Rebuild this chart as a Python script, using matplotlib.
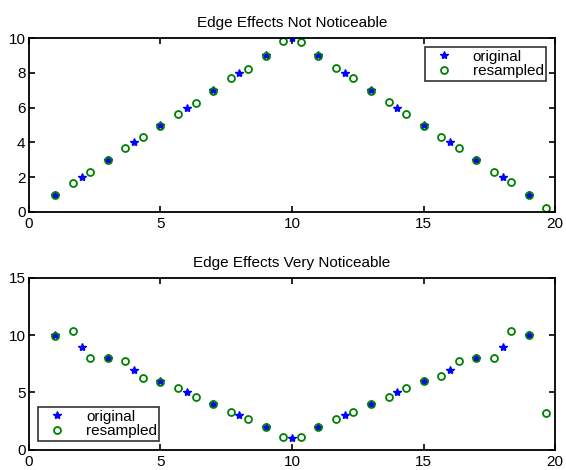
import matplotlib
matplotlib.use('Agg')
import matplotlib.pyplot as plt

plt.rcParams['font.family'] = ['Liberation Sans', 'DejaVu Sans']

# original samples
x_orig = list(range(1, 20))
y1_orig = [1, 2, 3, 4, 5, 6, 7, 8, 9, 10, 9, 8, 7, 6, 5, 4, 3, 2, 1]
y2_orig = [10, 9, 8, 7, 6, 5, 4, 3, 2, 1, 2, 3, 4, 5, 6, 7, 8, 9, 10]

# resampled (3/2 rate)
x_res = [1 + k / 1.5 for k in range(29)]
y1_res = [0.95, 1.65, 2.3, 3.0, 3.7, 4.3, 4.95, 5.65, 6.25, 6.95, 7.7, 8.25, 8.95, 9.85,
          9.8, 8.95, 8.3, 7.7, 6.95, 6.3, 5.65, 4.95, 4.3, 3.7, 3.0, 2.3, 1.7, 1.0, 0.2]
y2_res = [9.9, 10.4, 8.0, 8.0, 7.7, 6.3, 5.95, 5.4, 4.6, 3.95, 3.3, 2.7, 1.95, 1.1,
          1.1, 2.0, 2.7, 3.3, 4.0, 4.6, 5.4, 6.0, 6.4, 7.7, 8.0, 8.0, 10.4, 10.0, 3.2]

blue = (0, 0, 1)
green = (0, 0.5, 0)

fig = plt.figure(figsize=(5.66, 4.70), dpi=100)
ax1 = fig.add_axes([0.051, 0.549, 0.930, 0.370])
ax2 = fig.add_axes([0.051, 0.043, 0.930, 0.366])


def style(ax, yticks, ylim):
    ax.set_xlim(0, 20)
    ax.set_ylim(*ylim)
    ax.set_xticks([0, 5, 10, 15, 20])
    ax.set_yticks(yticks)
    ax.tick_params(direction='in', top=True, right=True, labelsize=11, length=4, width=1.2)
    ax.tick_params(axis='x', pad=3.5)
    ax.tick_params(axis='y', pad=2.5)
    for s in ax.spines.values():
        s.set_linewidth(1.3)


def add_legend(ax, loc):
    leg = ax.legend(loc=loc, fontsize=11, frameon=True, fancybox=False, edgecolor='black',
                    borderpad=0.15, handletextpad=0.8, labelspacing=0.05, handlelength=2.2,
                    borderaxespad=0.6)
    leg.get_frame().set_linewidth(1.2)


ax1.plot(x_orig, y1_orig, '*', color=blue, markersize=6, label='original')
ax1.plot(x_res, y1_res, 'o', color=green, markersize=5, fillstyle='none', mew=1.3, label='resampled')
style(ax1, [0, 2, 4, 6, 8, 10], (0, 10))
ax1.set_title('Edge Effects Not Noticeable', fontsize=11, pad=8)
add_legend(ax1, 'upper right')

ax2.plot(x_orig, y2_orig, '*', color=blue, markersize=6, label='original')
ax2.plot(x_res, y2_res, 'o', color=green, markersize=5, fillstyle='none', mew=1.3, label='resampled')
style(ax2, [0, 5, 10, 15], (0, 15))
ax2.set_title('Edge Effects Very Noticeable', fontsize=11, pad=8)
add_legend(ax2, 'lower left')

fig.savefig('out.png', dpi=100)
